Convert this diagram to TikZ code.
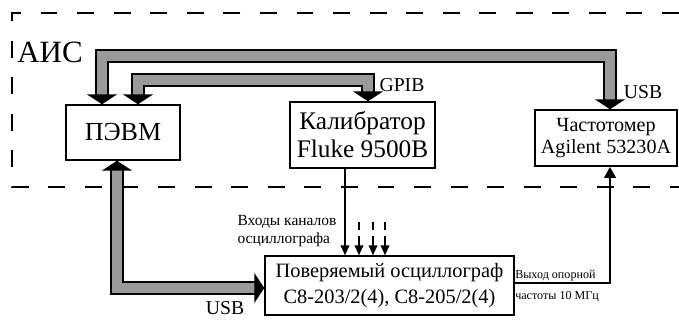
\documentclass[tikz,border=0pt]{standalone}
\usepackage{fontspec}
\setmainfont{Liberation Serif}
\usetikzlibrary{arrows.meta,positioning}

\tikzset{
  blk/.style={draw,line width=1pt,align=center,inner sep=0pt},
  bus/.style={line width=2pt,double=gray!80,double distance=6.5pt,
    {Triangle[width=21pt,length=7pt]}-{Triangle[width=21pt,length=7pt]}},
  sig/.style={line width=1.4pt,-{Triangle[width=6pt,length=7pt]}},
  lbl/.style={inner sep=0pt,font=\fontsize{14}{16}\selectfont},
}

\begin{document}
\begin{tikzpicture}[x=0.025cm,y=-0.025cm]
\useasboundingbox (0,0) rectangle (679,320);
% frame of the system
\draw[line width=1pt,dash pattern=on 12pt off 14pt] (679,13) -- (12,13) -- (12,187) -- (679,187);
\node[inner sep=0pt,font=\fontsize{22}{24}\selectfont] (ais) at (50,52) {АИС};
% devices
\node[blk,minimum width=2.85cm,minimum height=1.375cm,font=\fontsize{18.5}{20}\selectfont] (pc) at (123,132.5) {ПЭВМ};
\node[blk,minimum width=3.625cm,minimum height=1.65cm,font=\fontsize{18}{20}\selectfont] (cal) at (362.5,135) {Калибратор\\Fluke 9500B};
\node[blk,minimum width=3.55cm,minimum height=1.4cm,font=\fontsize{14.3}{15.6}\selectfont] (freq) at (606,138) {Частотомер\\Agilent 53230A};
\node[blk,minimum width=6.225cm,minimum height=1.475cm,font=\fontsize{14.5}{19}\selectfont] (osc) at (389.5,285.5) {Поверяемый осциллограф\\С8-203/2(4), С8-205/2(4)};
% buses
\coordinate (c1) at (102,56);
\coordinate (c2) at (610,56);
\coordinate (c3) at (138,80);
\coordinate (c4) at (368,80);
\coordinate (c5) at (117,288);
\draw[bus] (pc.north -| c1) -- (c1) -- (c2) -- (freq.north -| c2);
\draw[bus] (pc.north -| c3) -- (c3) -- (c4) -- (cal.north -| c4);
\draw[bus] (pc.south -| c5) -- (c5) -- (osc.west |- c5);
\node[lbl] (gpib) at (402,85) {GPIB};
\node[lbl] (usb1) at (643,92) {USB};
\node[lbl] (usb2) at (225,308) {USB};
% signals
\coordinate (c6) at (345,0);
\draw[sig] (cal.south -| c6) -- (osc.north -| c6);
\foreach \x [count=\i] in {359,373,385} {
  \coordinate (in\i) at (\x,222);
  \draw[sig,dash pattern=on 6pt off 4pt on 30pt] (in\i) -- (osc.north -| in\i);
}
\node[inner sep=0pt,align=left,font=\fontsize{11}{13}\selectfont] (inlbl) at (287,231) {Входы каналов\\осциллографа};
\coordinate (c7) at (610,283);
\draw[line width=2pt,-{Triangle[width=8pt,length=8pt]}] (osc.east |- c7) -- (c7) -- (freq.south -| c7);
\node[inner sep=0pt,anchor=west,font=\fontsize{8.6}{9}\selectfont] (outlbl1) at (515,276) {Выход опорной};
\node[inner sep=0pt,anchor=west,font=\fontsize{8.6}{9}\selectfont] (outlbl2) at (515,297) {частоты 10 МГц};
\end{tikzpicture}
\end{document}
